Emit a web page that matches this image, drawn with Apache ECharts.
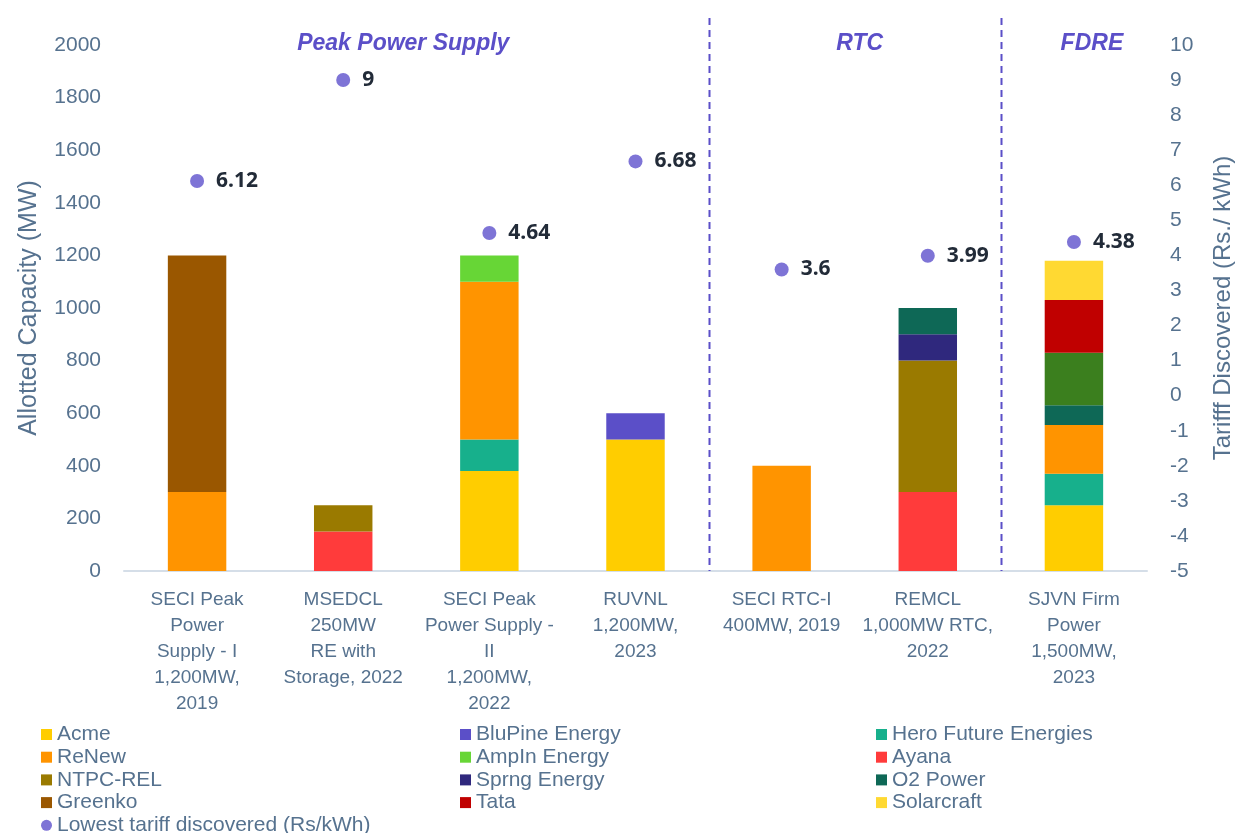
<!DOCTYPE html>
<html>
<head>
<meta charset="UTF-8">
<title>Allotted Capacity and Tariff Discovered</title>
<script src="https://cdn.jsdelivr.net/npm/echarts@6/dist/echarts.min.js"></script>
<style>
  html, body { margin: 0; padding: 0; background: #fff; }
  #container { width: 1236px; height: 833px; }
</style>
</head>
<body>
<div id="container"></div>
<script>
// categories (tenders)
var categories = [
  'SECI Peak\nPower\nSupply - I\n1,200MW,\n2019',
  'MSEDCL\n250MW\nRE with\nStorage, 2022',
  'SECI Peak\nPower Supply -\nII\n1,200MW,\n2022',
  'RUVNL\n1,200MW,\n2023',
  'SECI RTC-I\n400MW, 2019',
  'REMCL\n1,000MW RTC,\n2022',
  'SJVN Firm\nPower\n1,500MW,\n2023'
];

// allotted capacity per developer (MW), stacked bottom -> top
var acme       = [null, null, 380, 500, null, null, 250];
var heroFuture = [null, null, 120, null, null, null, 120];
var renew      = [300, null, 600, null, 400, null, 185];
var ayana      = [null, 150, null, null, null, 300, null];
var ntpcRel    = [null, 100, null, null, null, 500, null];
var greenko    = [900, null, null, null, null, null, null];
var ampin      = [null, null, 100, null, null, null, null];
var bluPine    = [null, null, null, 100, null, null, null];
var sprng      = [null, null, null, null, null, 100, null];
var o2Power    = [null, null, null, null, null, 100, 75];
var other      = [null, null, null, null, null, null, 200];
var tata       = [null, null, null, null, null, null, 200];
var solarcraft = [null, null, null, null, null, null, 150];

// lowest tariff discovered (Rs/kWh)
var tariff = [6.12, 9, 4.64, 6.68, 3.6, 3.99, 4.38];

// section headers and the category range each one covers
var sections = ['Peak Power Supply', 'RTC', 'FDRE'];
var sectionStart = [0, 4, 6];
var sectionEnd = [3, 5, 6];

var axisColor = '#56728F';
var labelFont = 'Liberation Sans';

var dom = document.getElementById('container');
var myChart = echarts.init(dom);

function bar(name, data, color) {
  return {
    name: name,
    type: 'bar',
    stack: 'cap',
    barWidth: '40%',
    data: data,
    itemStyle: { color: color },
    emphasis: { disabled: true }
  };
}

var series = [
  bar('Acme', acme, '#FFCD00'),
  bar('Hero Future Energies', heroFuture, '#17B08C'),
  bar('ReNew', renew, '#FF9400'),
  bar('Ayana', ayana, '#FF3B3B'),
  bar('NTPC-REL', ntpcRel, '#9A7A00'),
  bar('Greenko', greenko, '#9A5700'),
  bar('AmpIn Energy', ampin, '#67D636'),
  bar('BluPine Energy', bluPine, '#5B4FC8'),
  bar('Sprng Energy', sprng, '#2F287D'),
  bar('O2 Power', o2Power, '#0E6856'),
  bar('Others', other, '#3B7F1E'),
  bar('Tata', tata, '#C00000'),
  bar('Solarcraft', solarcraft, '#FFD932'),
  {
    name: 'Lowest tariff discovered (Rs/kWh)',
    type: 'scatter',
    yAxisIndex: 1,
    symbolSize: 14,
    data: tariff,
    itemStyle: { color: '#7E74D6', opacity: 1 },
    label: {
      show: true,
      position: 'right',
      distance: 12,
      color: '#222B38',
      fontFamily: 'Noto Sans',
      fontWeight: 'bold',
      fontSize: 21
    }
  }
];

var legendText = { color: axisColor, fontFamily: labelFont, fontSize: 21 };
function legendCol(left, names) {
  return {
    orient: 'vertical',
    left: left,
    top: 724,
    height: 140,
    padding: 0,
    itemWidth: 11,
    itemHeight: 11,
    itemGap: 1.7,
    icon: 'rect',
    textStyle: legendText,
    selectedMode: false,
    data: names
  };
}

option = {
  animation: false,
  grid: { left: 124, right: 89, top: 45, bottom: 262, outerBoundsMode: 'none' },
  legend: [
    legendCol(41, ['Acme', 'ReNew', 'NTPC-REL', 'Greenko',
      { name: 'Lowest tariff discovered (Rs/kWh)', icon: 'circle' }]),
    legendCol(460, ['BluPine Energy', 'AmpIn Energy', 'Sprng Energy', 'Tata']),
    legendCol(876, ['Hero Future Energies', 'Ayana', 'O2 Power', 'Solarcraft'])
  ],
  xAxis: [{
    type: 'category',
    data: categories,
    axisLine: { lineStyle: { color: '#D5DEE8', width: 2 } },
    axisTick: { show: false },
    axisLabel: {
      interval: 0,
      margin: 16,
      color: axisColor,
      fontFamily: labelFont,
      fontSize: 19,
      lineHeight: 26
    }
  }],
  yAxis: [{
    type: 'value',
    min: 0,
    max: 2000,
    interval: 200,
    name: 'Allotted Capacity (MW)',
    nameLocation: 'middle',
    nameGap: 82,
    nameTextStyle: { color: axisColor, fontFamily: labelFont, fontSize: 25 },
    axisLabel: {
      color: axisColor, fontFamily: labelFont, fontSize: 21, margin: 23,
      formatter: function (v) { return String(v); }
    },
    axisLine: { show: false },
    axisTick: { show: false },
    splitLine: { show: false }
  }, {
    type: 'value',
    min: -5,
    max: 10,
    interval: 1,
    name: 'Tarifff Discovered (Rs./ kWh)',
    nameLocation: 'middle',
    nameGap: 64,
    nameRotate: 90,
    nameTextStyle: { color: axisColor, fontFamily: labelFont, fontSize: 24 },
    axisLabel: { color: axisColor, fontFamily: labelFont, fontSize: 21, margin: 23 },
    axisLine: { show: false },
    axisTick: { show: false },
    splitLine: { show: false }
  }],
  series: series
};

myChart.setOption(option, true);

// section separators and headers, placed from the category axis
var titleShift = [-13, 5, 18];
var graphics = [];
var lineTop = 18;
var lineBottom = myChart.convertToPixel({ yAxisIndex: 0 }, 0);
for (var i = 0; i < sections.length; i++) {
  var x0 = myChart.convertToPixel({ xAxisIndex: 0 }, sectionStart[i]);
  var x1 = myChart.convertToPixel({ xAxisIndex: 0 }, sectionEnd[i]);
  graphics.push({
    type: 'text',
    x: (x0 + x1) / 2 + titleShift[i],
    y: 44,
    style: {
      text: sections[i],
      fill: '#5B4FC8',
      font: 'italic bold 23px "Liberation Sans"',
      align: 'center',
      verticalAlign: 'middle'
    }
  });
  if (i > 0) {
    var prev = myChart.convertToPixel({ xAxisIndex: 0 }, sectionStart[i] - 1);
    var sx = Math.round((prev + x0) / 2) + 0.5;
    graphics.push({
      type: 'line',
      shape: { x1: sx, y1: lineTop, x2: sx, y2: lineBottom },
      style: { stroke: '#5B4FC8', lineWidth: 2, lineDash: [7, 5] },
      z: 1
    });
  }
}
myChart.setOption({ graphic: graphics });
</script>
</body>
</html>
